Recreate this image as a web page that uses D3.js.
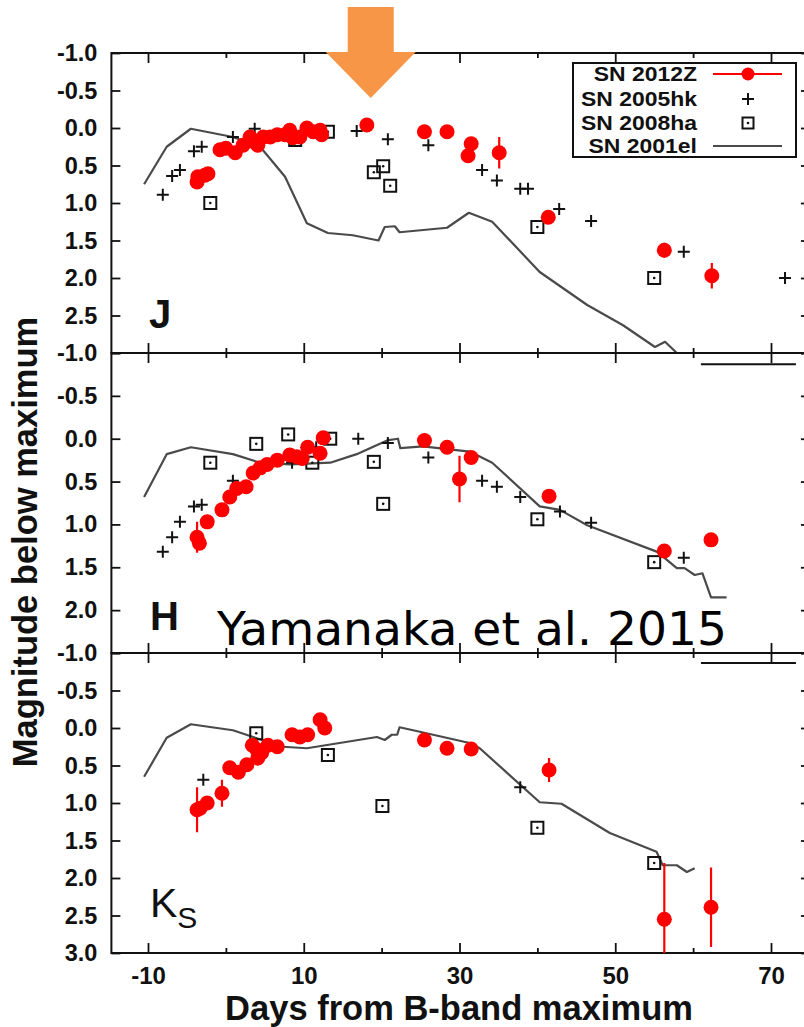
<!DOCTYPE html>
<html><head><meta charset="utf-8">
<script src="https://cdn.jsdelivr.net/npm/d3@7"></script>
<style>
body{margin:0;background:#fff}
svg{display:block}
text{font-family:"Liberation Sans",Arial,Helvetica,sans-serif}
</style>
</head><body>
<svg id="chart" width="804" height="1027"></svg>
<script>
// ---------------- DATA ----------------
const xTicksMajor = [-10, 10, 30, 50, 70];
const xTicksMinor = [0, 20, 40, 60];
const yTicksJ = [-1, -0.5, 0, 0.5, 1, 1.5, 2, 2.5, 3];
const yLabelsJ = [-1, -0.5, 0, 0.5, 1, 1.5, 2, 2.5];
const yTicksH = [-1, -0.5, 0, 0.5, 1, 1.5, 2, 2.5];
const yLabelsH = [-1, -0.5, 0, 0.5, 1, 1.5, 2];
const yTicksK = [-1, -0.5, 0, 0.5, 1, 1.5, 2, 2.5, 3];
const yLabelsK = [-1, -0.5, 0, 0.5, 1, 1.5, 2, 2.5, 3];
const seriesNames = ["SN 2012Z", "SN 2005hk", "SN 2008ha", "SN 2001el"];

// [day, mag, err]
const J_2012Z = [[-3.7,0.72,0],[-3.6,0.65,0],[-2.7,0.63,0],[-2.3,0.61,0],[-0.75,0.29,0],[0,0.27,0],[1.2,0.33,0],[2.2,0.23,0],[3.1,0.12,0],[3.7,0.19,0],[4.1,0.23,0],[4.8,0.12,0],[5.7,0.12,0],[6.6,0.09,0],[7.6,0.09,0],[8.2,0.03,0],[8.6,0.13,0],[9.5,0.12,0],[10.4,0.0,0],[11.2,0.05,0],[12.1,0.03,0],[12.3,0.09,0],[18.1,-0.04,0],[25.5,0.05,0],[28.4,0.05,0],[31.5,0.21,0],[31.1,0.37,0],[35.1,0.33,0.21],[41.4,1.19,0],[56.3,1.63,0.1],[62.4,1.97,0.17]];
const J_2005hk = [[-8.1,0.89],[-6.9,0.64],[-5.9,0.56],[-4.1,0.31],[-3.1,0.25],[0.9,0.12],[3.7,0.01],[16.8,0.04],[20.8,0.15],[26.0,0.23],[32.9,0.56],[34.8,0.70],[37.8,0.81],[38.8,0.81],[42.8,1.08],[46.9,1.24],[58.8,1.65],[71.8,2.0]];
const J_2008ha = [[-2.0,1.0],[8.9,0.16],[13.1,0.05],[19.0,0.59],[20.2,0.51],[21.1,0.77],[40.0,1.32],[55.0,2.0]];
const J_2001el = [[-10.5,0.75],[-7.6,0.25],[-4.5,0.01],[0.9,0.12],[4.4,0.25],[7.6,0.65],[10.4,1.27],[13.1,1.40],[16.3,1.43],[19.6,1.50],[20.4,1.32],[21.7,1.31],[22.3,1.39],[28.4,1.33],[31.2,1.13],[34.2,1.25],[40.3,1.92],[46.4,2.36],[51.0,2.63],[55.1,2.92],[56.4,2.85],[57.9,3.0],[59,3.1]];

const H_2012Z = [[-3.7,1.15,0.18],[-3.4,1.22,0],[-2.4,0.97,0],[-0.5,0.83,0],[0.5,0.68,0],[1.4,0.58,0],[2.6,0.56,0],[3.5,0.40,0],[4.4,0.34,0],[5.3,0.30,0],[6.6,0.25,0],[8.2,0.19,0],[9.1,0.21,0],[9.8,0.23,0],[10.5,0.10,0],[12.1,0.17,0],[12.5,-0.01,0],[25.5,0.02,0],[28.4,0.10,0],[31.5,0.22,0],[30.0,0.47,0.27],[41.5,0.67,0],[56.3,1.31,0],[62.3,1.18,0]];
const H_2005hk = [[-8.1,1.32],[-6.9,1.15],[-5.9,0.97],[-4.1,0.79],[-3.1,0.77],[0.9,0.49],[8.5,0.28],[11.6,0.10],[17.0,0.0],[20.8,0.05],[26.0,0.22],[32.9,0.49],[34.8,0.56],[37.8,0.68],[42.9,0.85],[46.9,0.98],[58.8,1.39]];
const H_2008ha = [[-2.0,0.28],[3.9,0.06],[8.0,-0.05],[11.1,0.28],[13.4,0.0],[19.0,0.27],[20.2,0.76],[40.0,0.94],[55.0,1.44]];
const H_2001el = [[-10.5,0.68],[-7.6,0.18],[-4.5,0.10],[0.9,0.18],[4.4,0.28],[8.2,0.30],[13.4,0.28],[16.8,0.18],[20.7,0.02],[22.1,0.0],[22.4,0.11],[25.3,0.09],[31.3,0.15],[34.2,0.28],[40.3,0.79],[42.9,0.83],[46.4,1.01],[55.4,1.32],[57.9,1.51],[58.9,1.51],[60.2,1.59],[61.2,1.57],[62.3,1.85],[64.3,1.85]];

const K_2012Z = [[-3.7,1.09,0.3],[-3.3,1.07,0],[-2.4,1.0,0],[-0.5,0.87,0.18],[0.5,0.53,0],[1.6,0.59,0],[2.7,0.49,0],[3.4,0.23,0],[4.0,0.29,0],[4.1,0.40,0.1],[4.6,0.33,0],[5.4,0.23,0],[6.6,0.25,0],[8.5,0.09,0],[9.5,0.12,0],[10.5,0.09,0],[12.1,-0.11,0],[12.7,0.0,0],[25.5,0.16,0],[28.4,0.27,0],[31.5,0.28,0],[41.5,0.56,0.16],[56.3,2.55,0.75],[62.3,2.39,0.53]];
const K_2005hk = [[-2.9,0.69],[37.8,0.79]];
const K_2008ha = [[3.9,0.07],[13.1,0.36],[20.1,1.04],[40.0,1.33],[55.0,1.80]];
const K_2001el = [[-10.5,0.65],[-7.6,0.13],[-4.5,-0.05],[0.9,0.03],[3.5,0.12],[7.3,0.25],[10.4,0.27],[19.4,0.12],[20.4,0.16],[21.3,0.09],[22.0,0.09],[22.3,-0.01],[24.9,0.05],[31.3,0.20],[32.6,0.27],[40.3,0.99],[43.1,1.01],[49.3,1.40],[55.3,1.65],[56.1,1.83],[57.9,1.83],[59.2,1.92],[60.2,1.87]];

// stray horizontal segment seen at the top-right of the H and Ks panels
const H_stray = [[61.0,-0.87],[73.2,-0.87]];
const K_stray = [[61.0,-0.867],[73.2,-0.867]];

// ---------------- DRAW ----------------
const svg = d3.select("#chart");
const x = d3.scaleLinear().domain([-14.7, 75]).range([148 - 4.7 * 7.7875, 771 + 5 * 7.7875]);
const fmt = v => v.toFixed(1);

const panels = [
  {name:"J", top:53, bottom:353, domain:[-1,3], ticks:yTicksJ, labels:yLabelsJ, red:J_2012Z, plus:J_2005hk, sq:J_2008ha, line:J_2001el, stray:null, xLabels:false},
  {name:"H", top:353, bottom:653, domain:[-1,2.5], ticks:yTicksH, labels:yLabelsH, red:H_2012Z, plus:H_2005hk, sq:H_2008ha, line:H_2001el, stray:H_stray, xLabels:false},
  {name:"K", top:653, bottom:953, domain:[-1,3], ticks:yTicksK, labels:yLabelsK, red:K_2012Z, plus:K_2005hk, sq:K_2008ha, line:K_2001el, stray:K_stray, xLabels:true}
];

const [X0, X1] = x.range();
const defs = svg.append("defs");

panels.forEach((p, i) => {
  const y = d3.scaleLinear().domain(p.domain).range([p.top, p.bottom]);
  const g = svg.append("g");
  const clipId = "clip" + i;
  defs.append("clipPath").attr("id", clipId).append("rect")
    .attr("x", X0).attr("y", p.top).attr("width", X1 - X0).attr("height", p.bottom - p.top);

  const styleAxis = sel => { sel.select(".domain").remove(); sel.selectAll(".tick line").attr("stroke","#111").attr("stroke-width",1.8); };
  g.append("g").attr("transform",`translate(0,${p.bottom})`)
    .call(d3.axisBottom(x).tickValues(xTicksMajor).tickSize(-10).tickSizeOuter(0).tickPadding(14)
      .tickFormat(p.xLabels ? (d => String(d).replace("\u2212","-")) : () => ""))
    .call(styleAxis)
    .call(s => s.selectAll("text").attr("font-size",24).attr("font-weight","bold").attr("fill","#111").style("font-family","'Liberation Sans',Arial,sans-serif"));
  g.append("g").attr("transform",`translate(0,${p.bottom})`)
    .call(d3.axisBottom(x).tickValues(xTicksMinor).tickSize(-5).tickSizeOuter(0).tickFormat(() => ""))
    .call(styleAxis);
  g.append("g").attr("transform",`translate(0,${p.top})`)
    .call(d3.axisTop(x).tickValues(xTicksMajor).tickSize(-10).tickSizeOuter(0).tickFormat(() => ""))
    .call(styleAxis);
  g.append("g").attr("transform",`translate(0,${p.top})`)
    .call(d3.axisTop(x).tickValues(xTicksMinor).tickSize(-5).tickSizeOuter(0).tickFormat(() => ""))
    .call(styleAxis);
  g.append("g").attr("transform",`translate(${X0},0)`)
    .call(d3.axisLeft(y).tickValues(p.ticks).tickSize(-9).tickSizeOuter(0).tickPadding(14)
      .tickFormat(v => p.labels.includes(v) ? fmt(v) : ""))
    .call(styleAxis)
    .call(s => s.selectAll("text").attr("font-size",23.5).attr("font-weight","bold").attr("fill","#111").style("font-family","'Liberation Sans',Arial,sans-serif"));
  g.append("g").attr("transform",`translate(${X1},0)`)
    .call(d3.axisRight(y).tickValues(p.ticks).tickSize(-9).tickSizeOuter(0).tickFormat(() => ""))
    .call(styleAxis);

  g.append("rect").attr("x", X0).attr("y", p.top).attr("width", X1 - X0).attr("height", p.bottom - p.top)
    .attr("fill","none").attr("stroke","#111").attr("stroke-width",2);

  const plot = g.append("g").attr("clip-path", `url(#${clipId})`);
  const line = d3.line().x(d => x(d[0])).y(d => y(d[1]));

  plot.append("path").datum(p.line).attr("d", line)
    .attr("fill","none").attr("stroke","#4a4a4a").attr("stroke-width",2.2).attr("stroke-linejoin","round");

  if (p.stray) {
    plot.append("path").datum(p.stray).attr("d", line).attr("fill","none").attr("stroke","#111").attr("stroke-width",2);
  }

  const sq = plot.append("g").selectAll("g").data(p.sq).join("g")
    .attr("transform", d => `translate(${x(d[0])},${y(d[1])})`);
  sq.append("rect").attr("x",-6).attr("y",-6).attr("width",12).attr("height",12)
    .attr("fill","none").attr("stroke","#111").attr("stroke-width",2);
  sq.append("circle").attr("r",1.3).attr("fill","#111");

  plot.append("g").selectAll("path").data(p.plus).join("path")
    .attr("d", d => { const cx = x(d[0]), cy = y(d[1]); return `M${cx-6},${cy}H${cx+6}M${cx},${cy-6}V${cy+6}`; })
    .attr("stroke","#111").attr("stroke-width",2).attr("fill","none");

  plot.append("g").selectAll("line").data(p.red.filter(d => d[2] > 0)).join("line")
    .attr("x1", d => x(d[0])).attr("x2", d => x(d[0]))
    .attr("y1", d => y(d[1] - d[2])).attr("y2", d => y(d[1] + d[2]))
    .attr("stroke","#ff0000").attr("stroke-width",2.2);
  plot.append("g").selectAll("circle").data(p.red).join("circle")
    .attr("cx", d => x(d[0])).attr("cy", d => y(d[1])).attr("r", 7.5).attr("fill","#ff0000");
});

// panel labels
svg.append("text").attr("x",149).attr("y",328).attr("font-size",40).attr("font-weight","bold").attr("fill","#111").text("J");
svg.append("text").attr("x",150).attr("y",630).attr("font-size",40).attr("font-weight","bold").attr("fill","#111").text("H");
const ks = svg.append("text").attr("x",150).attr("y",917).attr("font-size",41).attr("fill","#111");
ks.append("tspan").text("K");
ks.append("tspan").attr("font-size",30).attr("dy",11).text("S");

// axis titles
svg.append("text").attr("x",459).attr("y",1020).attr("text-anchor","middle").attr("font-size",34.5).attr("font-weight","bold").attr("fill","#111")
  .text("Days from B-band maximum");
svg.append("text").attr("transform","translate(37,542) rotate(-90)").attr("text-anchor","middle").attr("font-size",34.5).attr("font-weight","bold").attr("fill","#111")
  .text("Magnitude below maximum");

// legend
const lg = svg.append("g");
lg.append("rect").attr("x",573).attr("y",63).attr("width",223).attr("height",94).attr("fill","#fff").attr("stroke","#111").attr("stroke-width",2);
const rowY = [74, 99, 123, 146];
seriesNames.forEach((n, i) => {
  lg.append("text").attr("transform",`translate(697,${rowY[i]}) scale(1.12,1)`).attr("dy","0.36em").attr("text-anchor","end")
    .attr("font-size",20.5).attr("font-weight","bold").attr("fill","#111").text(n);
});
lg.append("line").attr("x1",713).attr("x2",782).attr("y1",rowY[0]).attr("y2",rowY[0]).attr("stroke","#ff0000").attr("stroke-width",2);
lg.append("circle").attr("cx",748).attr("cy",rowY[0]).attr("r",6.5).attr("fill","#ff0000");
lg.append("path").attr("d",`M742,${rowY[1]}H754M748,${rowY[1]-6}V${rowY[1]+6}`).attr("stroke","#111").attr("stroke-width",2);
lg.append("rect").attr("x",742.5).attr("y",rowY[2]-5.5).attr("width",11).attr("height",11).attr("fill","none").attr("stroke","#111").attr("stroke-width",2);
lg.append("circle").attr("cx",748).attr("cy",rowY[2]).attr("r",1.3).attr("fill","#111");
lg.append("line").attr("x1",713).attr("x2",782).attr("y1",rowY[3]).attr("y2",rowY[3]).attr("stroke","#4a4a4a").attr("stroke-width",2.2);

// annotation
svg.append("text").attr("x",217).attr("y",645).attr("font-size",46).attr("fill","#000")
  .style("font-family","'DejaVu Sans',Verdana,sans-serif").attr("textLength",510).attr("lengthAdjust","spacingAndGlyphs")
  .text("Yamanaka et al. 2015");

const arrowDay = 18.6;
const ax = x(arrowDay);
svg.append("path")
  .attr("d", `M${ax-23},7H${ax+23}V52H${ax+45}L${ax},98L${ax-45},52H${ax-23}Z`)
  .attr("fill","#f79646");
</script>
</body></html>
